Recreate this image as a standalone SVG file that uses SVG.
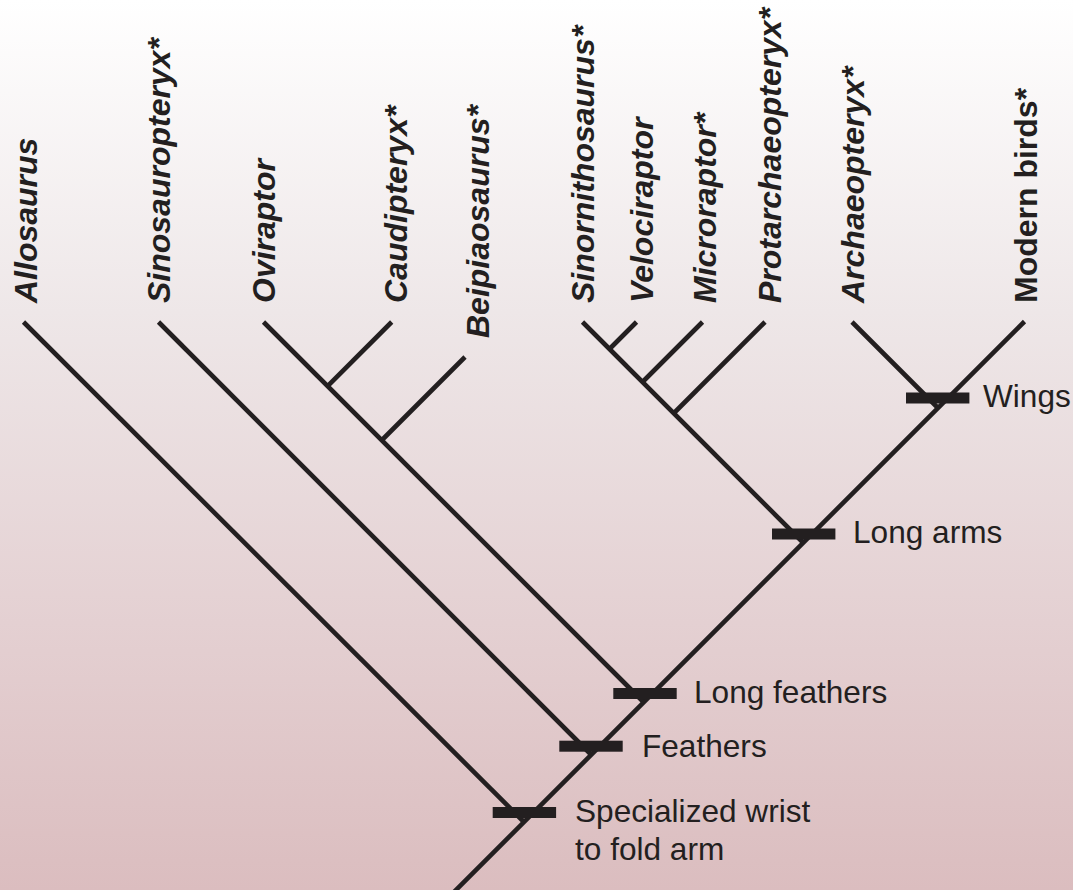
<svg xmlns="http://www.w3.org/2000/svg" width="1073" height="890" viewBox="0 0 1073 890">
<defs>
<linearGradient id="bg" x1="0" y1="0" x2="0" y2="1">
<stop offset="0" stop-color="#ffffff"/>
<stop offset="0.35" stop-color="#eee7e8"/>
<stop offset="0.7" stop-color="#e4d0d2"/>
<stop offset="1" stop-color="#dbbdbf"/>
</linearGradient>
<style>
.br{stroke:#231f20;stroke-width:4.6;fill:none;stroke-linecap:butt}
.bar{fill:#231f20}
.tx{font-family:"Liberation Sans",Arial,sans-serif;font-weight:bold;font-style:italic;font-size:32px;fill:#231f20}
.up{font-style:normal}
.lb{font-family:"Liberation Sans",Arial,sans-serif;font-size:31.6px;fill:#231f20}
</style>
</defs>
<rect width="1073" height="890" fill="url(#bg)"/>
<g id="connectors">
<line class="br" x1="454" y1="892" x2="1024.5" y2="321.5"/>
<line class="br" x1="23.5" y1="322" x2="524" y2="822"/>
<line class="br" x1="158.5" y1="322" x2="591" y2="754.5"/>
<line class="br" x1="263.5" y1="322" x2="644" y2="702.5"/>
<line class="br" x1="391.7" y1="322" x2="327.6" y2="386.1"/>
<line class="br" x1="465" y1="357" x2="381.75" y2="440.25"/>
<line class="br" x1="582.5" y1="322" x2="803.25" y2="542.75"/>
<line class="br" x1="636.5" y1="322" x2="609.5" y2="349"/>
<line class="br" x1="702.5" y1="322" x2="642.5" y2="382"/>
<line class="br" x1="765" y1="322" x2="673.75" y2="413.25"/>
<line class="br" x1="852" y1="322" x2="938" y2="408"/>
</g>
<g id="taxa">
<g id="allosaurus"><text class="tx" transform="translate(37,303) rotate(-90)">Allosaurus</text></g>
<g id="sinosauropteryx"><text class="tx" transform="translate(170,303) rotate(-90)">Sinosauropteryx*</text></g>
<g id="oviraptor"><text class="tx" transform="translate(275,303) rotate(-90)">Oviraptor</text></g>
<g id="caudipteryx"><text class="tx" transform="translate(407,303) rotate(-90)">Caudipteryx*</text></g>
<g id="beipiaosaurus"><text class="tx" transform="translate(489,338) rotate(-90)">Beipiaosaurus*</text></g>
<g id="sinornithosaurus"><text class="tx" transform="translate(594,303) rotate(-90)">Sinornithosaurus*</text></g>
<g id="velociraptor"><text class="tx" transform="translate(653,303) rotate(-90)">Velociraptor</text></g>
<g id="microraptor"><text class="tx" transform="translate(716,303) rotate(-90)">Microraptor*</text></g>
<g id="protarchaeopteryx"><text class="tx" transform="translate(781,303) rotate(-90)">Protarchaeopteryx*</text></g>
<g id="archaeopteryx"><text class="tx" transform="translate(864,303) rotate(-90)">Archaeopteryx*</text></g>
<g id="modern-birds"><text class="tx up" transform="translate(1037,303) rotate(-90)">Modern birds*</text></g>
</g>
<g id="characters">
<g id="wings"><rect class="bar" x="906" y="392.5" width="63.4" height="11"/><text class="lb" x="983" y="407">Wings</text></g>
<g id="long-arms"><rect class="bar" x="772" y="528.5" width="63.4" height="11"/><text class="lb" x="853" y="543">Long arms</text></g>
<g id="long-feathers"><rect class="bar" x="613.3" y="688" width="63.4" height="11"/><text class="lb" x="694" y="703">Long feathers</text></g>
<g id="feathers"><rect class="bar" x="559.3" y="740.7" width="63.4" height="11"/><text class="lb" x="642" y="757">Feathers</text></g>
<g id="wrist"><rect class="bar" x="492.7" y="807" width="63.4" height="11"/><text class="lb" x="575" y="822">Specialized wrist</text><text class="lb" x="575" y="860">to fold arm</text></g>
</g>
</svg>
